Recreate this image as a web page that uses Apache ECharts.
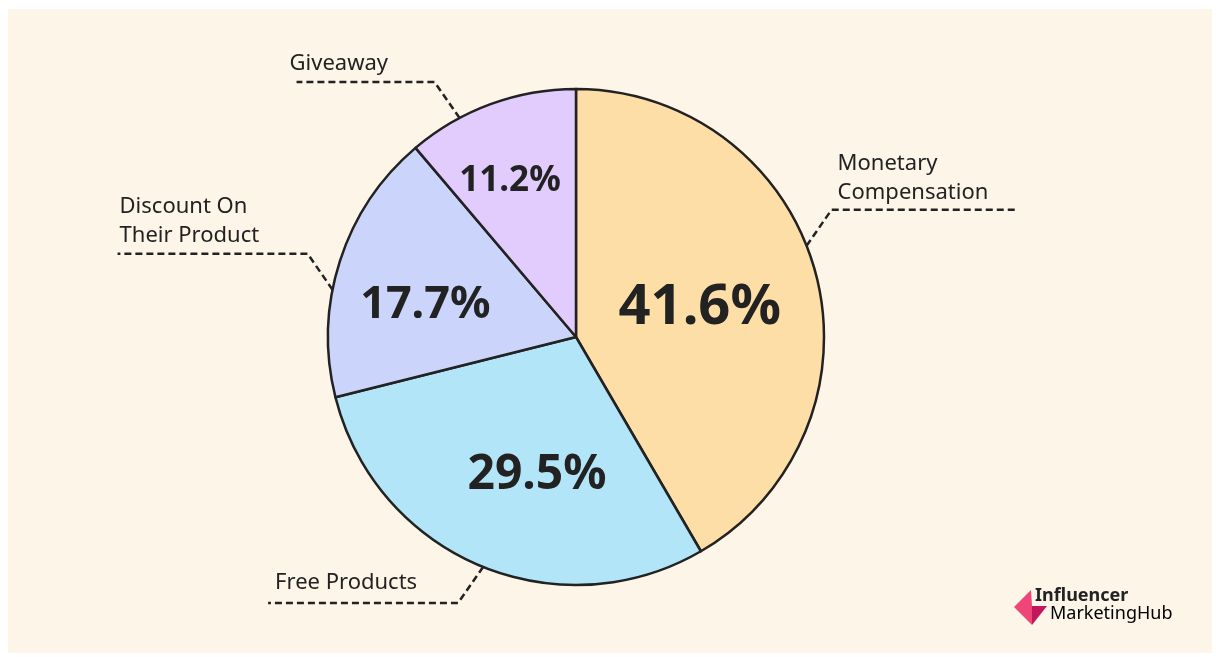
<!DOCTYPE html>
<html>
<head>
<meta charset="utf-8">
<script src="https://cdn.jsdelivr.net/npm/echarts@6/dist/echarts.min.js"></script>
<style>
  html, body { margin: 0; padding: 0; background: #ffffff; }
  #chart { width: 1216px; height: 657px; }
</style>
</head>
<body>
<div id="chart"></div>
<script>
// data
const categories = ['Monetary\nCompensation', 'Free Products', 'Discount On\nTheir Product', 'Giveaway'];
const shares = [41.6, 29.5, 17.7, 11.2];
const sliceColors = ['#fedea7', '#b2e5f8', '#cbd4fa', '#e2cbfd'];

// label layout (not data)
const labelAngles = [21.6, -112, 169, 118];   // where the dashed line leaves the pie
const lineLengths = [187, 190, 190, 138];
const labelDx = [6, 7, 2, -7];
const labelDy = [-2, -6, -3, -4];
const pctFontSizes = [56, 48, 45, 35];
const pctAngles = [13, -105.7, 168, 113];
const pctRadii = [127, 144, 154, 169];

const center = [576, 337];
const radius = 248;

const chart = echarts.init(document.getElementById('chart'));

const polar = function (deg, r) {
  const a = deg * Math.PI / 180;
  return [center[0] + r * Math.cos(a), center[1] - r * Math.sin(a)];
};

const outerLabelLayout = function (params) {
  const i = params.dataIndex;
  const a = labelAngles[i] * Math.PI / 180;
  const p0 = polar(labelAngles[i], radius);
  const side = Math.cos(a) >= 0 ? 1 : -1;
  const up = Math.sin(a) >= 0 ? -1 : 1;
  const p1 = [p0[0] + side * 25, p0[1] + up * 36];
  const p2 = [p1[0] + side * lineLengths[i], p1[1]];
  return {
    x: Math.min(p1[0], p2[0]) + labelDx[i],
    y: p1[1] + labelDy[i],
    align: 'left',
    verticalAlign: 'bottom',
    labelLinePoints: [p0, p1, p2]
  };
};

const innerLabelLayout = function (params) {
  const i = params.dataIndex;
  const p = polar(pctAngles[i], pctRadii[i]);
  return { x: p[0], y: p[1], align: 'center', verticalAlign: 'middle' };
};

const option = {
  backgroundColor: '#ffffff',
  animation: false,
  graphic: [
    {
      type: 'rect',
      z: -10,
      shape: { x: 8, y: 9, width: 1204, height: 644 },
      style: { fill: '#fef5e9' }
    },
    // logo
    {
      type: 'polygon',
      shape: { points: [[1031, 590], [1014, 607], [1032, 625], [1032, 606]] },
      style: { fill: '#ef4678' }
    },
    {
      type: 'polygon',
      shape: { points: [[1032, 606], [1047, 606], [1032, 625]] },
      style: { fill: '#c2185b' }
    },
    {
      type: 'text',
      x: 1035, y: 596,
      style: {
        text: 'Influencer',
        font: 'bold 18px "Noto Sans"',
        fill: '#222222',
        verticalAlign: 'middle'
      }
    },
    {
      type: 'text',
      x: 1050, y: 614,
      style: {
        text: '{a|Marketing}{b|Hub}',
        verticalAlign: 'middle',
        rich: {
          a: { fontFamily: 'Noto Sans', fontSize: 18, color: '#2a2a2a' },
          b: { fontFamily: 'Noto Sans', fontSize: 18, color: '#5a5a5a' }
        }
      }
    }
  ],
  series: [
    {
      type: 'pie',
      center: center,
      radius: radius,
      startAngle: 90,
      clockwise: true,
      avoidLabelOverlap: false,
      emphasis: { disabled: true },
      itemStyle: { borderColor: '#222222', borderWidth: 2.5 },
      label: {
        show: true,
        position: 'outside',
        formatter: '{b}',
        fontFamily: 'Noto Sans',
        fontSize: 22,
        lineHeight: 29,
        color: '#222222'
      },
      labelLine: {
        show: true,
        length: 30,
        length2: 180,
        lineStyle: { color: '#222222', width: 2.5, type: [7, 4] }
      },
      labelLayout: outerLabelLayout,
      data: categories.map(function (name, i) {
        return { name: name, value: shares[i], itemStyle: { color: sliceColors[i] } };
      })
    },
    {
      type: 'pie',
      center: center,
      radius: radius,
      startAngle: 90,
      clockwise: true,
      silent: true,
      emphasis: { disabled: true },
      itemStyle: { color: 'rgba(0,0,0,0)' },
      labelLine: { show: false },
      label: {
        show: true,
        position: 'inside',
        fontFamily: 'Noto Sans',
        fontWeight: 'bold',
        color: '#222222',
        formatter: function (p) { return p.value.toFixed(1) + '%'; }
      },
      labelLayout: innerLabelLayout,
      data: categories.map(function (name, i) {
        return { name: name, value: shares[i], label: { fontSize: pctFontSizes[i] } };
      })
    }
  ]
};

chart.setOption(option);
window.onresize = function () {
  chart.resize();
};
</script>
</body>
</html>
